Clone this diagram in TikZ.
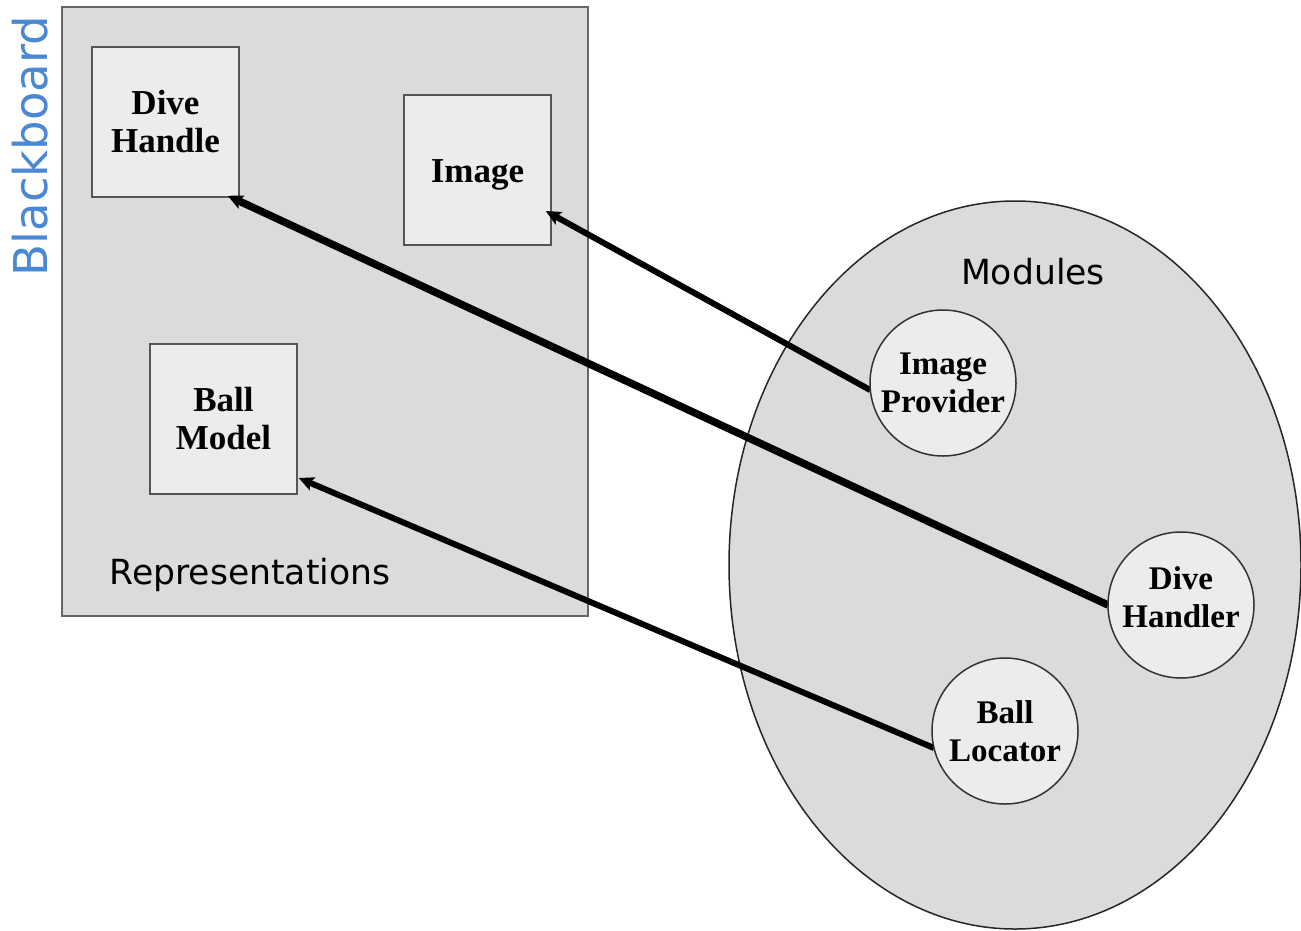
\documentclass[tikz,border=0pt]{standalone}
\usepackage{fontspec}
\setmainfont{Liberation Serif}
\newfontfamily\labelsans{DejaVu Sans}
\usetikzlibrary{arrows.meta,shapes.geometric}
\definecolor{panel}{HTML}{DCDADB}
\definecolor{boxfill}{HTML}{EDEBEB}
\definecolor{edge}{HTML}{555555}
\definecolor{titleblue}{HTML}{4A88D4}
\tikzset{
  repbox/.style={draw=edge, line width=1.5pt, fill=boxfill, minimum width=147pt,
    minimum height=150pt, align=center, inner sep=0pt,
    font=\fontsize{35}{38}\selectfont\bfseries},
  modcircle/.style={circle, draw=black!80, line width=1.5pt, fill=boxfill,
    minimum size=146pt, align=center, inner sep=0pt,
    font=\fontsize{33}{38}\selectfont\bfseries},
  areatitle/.style={font=\labelsans\fontsize{34.6}{40}\selectfont, inner sep=0pt},
  writes/.style={line width=6pt, draw=black,
    -{Stealth[length=15pt,width=14pt,inset=3pt]}},
}
\begin{document}
\begin{tikzpicture}[x=1pt,y=-1pt]
\useasboundingbox (0,0) rectangle (1301,930);
\fill[white] (0,0) rectangle (1301,930);

% blackboard area with the stored representations
\node[draw=edge!90, line width=1.5pt, fill=panel, minimum width=526pt,
  minimum height=609pt, inner sep=0pt] (board) at (325,311.5) {};
\node[rotate=90, font=\labelsans\fontsize{46.6}{50}\selectfont, text=titleblue,
  inner sep=0pt] (bbtitle) at (30,146) {Blackboard};
\node[areatitle] (reptitle) at (250,575) {Representations};

\node[repbox] (divebox) at (165.5,122) {Dive\\Handle};
\node[repbox] (imgbox) at (477.5,170) {\raisebox{-5pt}[\height][\depth]{Image}};
\node[repbox] (ballbox) at (223.5,419) {Ball\\Model};

% module pool
\node[ellipse, draw=black!85, line width=1.5pt, fill=panel,
  minimum width=572pt, minimum height=728pt, inner sep=0pt] (pool) at (1015,565) {};
\node[areatitle] (modtitle) at (1033,272) {Modules};

\coordinate (ipc) at (943,383);
\coordinate (dhc) at (1181,605);
\coordinate (blc) at (1005,731);

% modules writing their representations
\draw[writes] ([shift={(185.6:73pt)}]ipc) -- ([xshift=-6pt,yshift=-41pt]imgbox.east);
\draw[writes, line width=7.5pt] ([shift={(180:73pt)}]dhc) -- ([xshift=-12pt,yshift=2pt]divebox.south east);
\draw[writes] ([shift={(193.5:73pt)}]blc) -- ([xshift=1pt,yshift=-59pt]ballbox.east);

\node[modcircle] (improv) at (ipc) {Image\\Provider};
\node[modcircle] (divehandler) at (dhc)
  {\raisebox{4pt}[\height][\depth]{\begin{tabular}{@{}c@{}}Dive\\Handler\end{tabular}}};
\node[modcircle] (balloc) at (blc) {Ball\\Locator};
\end{tikzpicture}
\end{document}
